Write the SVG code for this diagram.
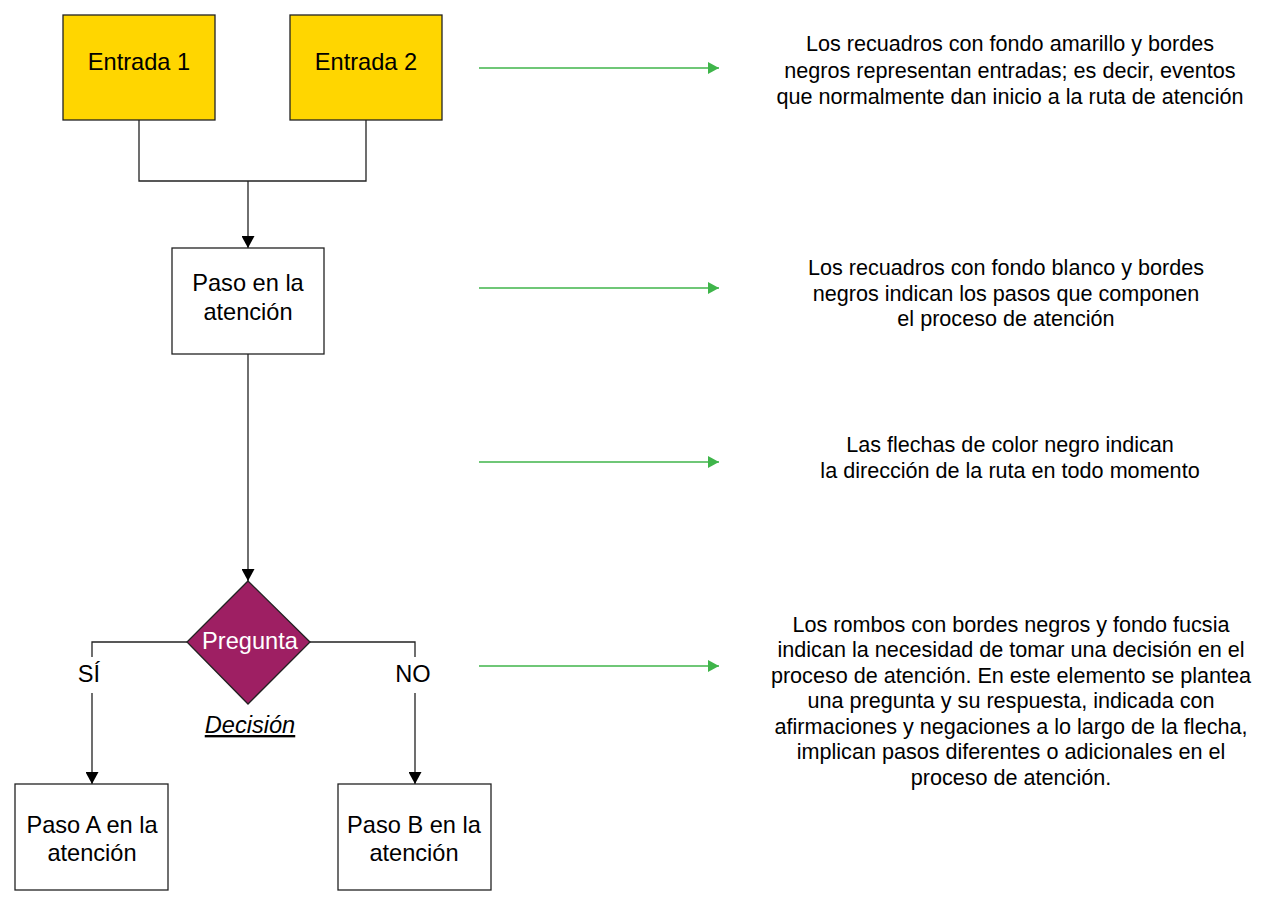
<svg xmlns="http://www.w3.org/2000/svg" width="1263" height="900" viewBox="0 0 1263 900">
<defs>
<marker id="ab" markerWidth="13" markerHeight="13" viewBox="0 0 13 13" refX="12" refY="6.5" orient="auto" markerUnits="userSpaceOnUse">
<path d="M0,0 L12,6.5 L0,13 Z" fill="#000"/>
</marker>
<marker id="ag" markerWidth="12" markerHeight="12" viewBox="0 0 12 12" refX="11" refY="6" orient="auto" markerUnits="userSpaceOnUse">
<path d="M0,0 L11,6 L0,12 Z" fill="#3fb54a"/>
</marker>
<style>
.box{stroke:#222;stroke-width:1.3}
.y{fill:#FFD600}
.w{fill:#fff}
.n{font-family:"Liberation Sans",Arial,sans-serif;font-size:23.6px;fill:#000;text-anchor:middle}
.d{font-family:"Liberation Sans",Arial,sans-serif;font-size:21.6px;fill:#000;text-anchor:middle}
.c{fill:none;stroke:#222;stroke-width:1.3}
.g{fill:none;stroke:#3fb54a;stroke-width:1.5}
</style>
</defs>
<rect width="1263" height="900" fill="#fff"/>
<g id="connectors">
<path class="c" d="M139,120 V181 H366 V120"/>
<path class="c" d="M248,181 V248" marker-end="url(#ab)"/>
<path class="c" d="M248,354 V581" marker-end="url(#ab)"/>
<path class="c" d="M187,642 H92 V784" marker-end="url(#ab)"/>
<path class="c" d="M310,642 H415 V784" marker-end="url(#ab)"/>
<rect x="70" y="657" width="44" height="36" fill="#fff"/>
<rect x="389" y="657" width="50" height="36" fill="#fff"/>
<text class="n" x="89" y="682">SÍ</text>
<text class="n" x="413" y="682">NO</text>
<path class="g" d="M479,68 H719" marker-end="url(#ag)"/>
<path class="g" d="M479,288 H719" marker-end="url(#ag)"/>
<path class="g" d="M479,462 H719" marker-end="url(#ag)"/>
<path class="g" d="M479,666 H719" marker-end="url(#ag)"/>
</g>
<g id="entrada1">
<rect class="box y" x="63" y="15" width="152" height="105"/>
<text class="n" x="139" y="70">Entrada 1</text>
</g>
<g id="entrada2">
<rect class="box y" x="290" y="15" width="152" height="105"/>
<text class="n" x="366" y="70">Entrada 2</text>
</g>
<g id="paso">
<rect class="box w" x="172" y="248" width="152" height="106"/>
<text class="n" x="248" y="291">Paso en la</text>
<text class="n" x="248" y="320">atención</text>
</g>
<g id="pregunta">
<path class="box" fill="#9E1F63" d="M248,581 L310,642 L248,704 L187,642 Z"/>
<text class="n" x="250" y="649" style="fill:#fff">Pregunta</text>
</g>
<g id="decision">
<text class="n" x="250" y="733" font-style="italic" text-decoration="underline">Decisión</text>
</g>
<g id="pasoA">
<rect class="box w" x="15" y="784" width="153" height="106"/>
<text class="n" x="92" y="833">Paso A en la</text>
<text class="n" x="92" y="861">atención</text>
</g>
<g id="pasoB">
<rect class="box w" x="338" y="784" width="153" height="106"/>
<text class="n" x="414" y="833">Paso B en la</text>
<text class="n" x="414" y="861">atención</text>
</g>
<g id="desc1">
<text class="d" x="1010" y="51">Los recuadros con fondo amarillo y bordes</text>
<text class="d" x="1010" y="77.5">negros representan entradas; es decir, eventos</text>
<text class="d" x="1010" y="104">que normalmente dan inicio a la ruta de atención</text>
</g>
<g id="desc2">
<text class="d" x="1006" y="275">Los recuadros con fondo blanco y bordes</text>
<text class="d" x="1006" y="300.5">negros indican los pasos que componen</text>
<text class="d" x="1006" y="326">el proceso de atención</text>
</g>
<g id="desc3">
<text class="d" x="1010" y="451.5">Las flechas de color negro indican</text>
<text class="d" x="1010" y="477.5">la dirección de la ruta en todo momento</text>
</g>
<g id="desc4">
<text class="d" x="1011" y="631.5">Los rombos con bordes negros y fondo fucsia</text>
<text class="d" x="1011" y="657">indican la necesidad de tomar una decisión en el</text>
<text class="d" x="1011" y="682.5">proceso de atención. En este elemento se plantea</text>
<text class="d" x="1011" y="708">una pregunta y su respuesta, indicada con</text>
<text class="d" x="1011" y="733.5">afirmaciones y negaciones a lo largo de la flecha,</text>
<text class="d" x="1011" y="759">implican pasos diferentes o adicionales en el</text>
<text class="d" x="1011" y="784.5">proceso de atención.</text>
</g>
</svg>
